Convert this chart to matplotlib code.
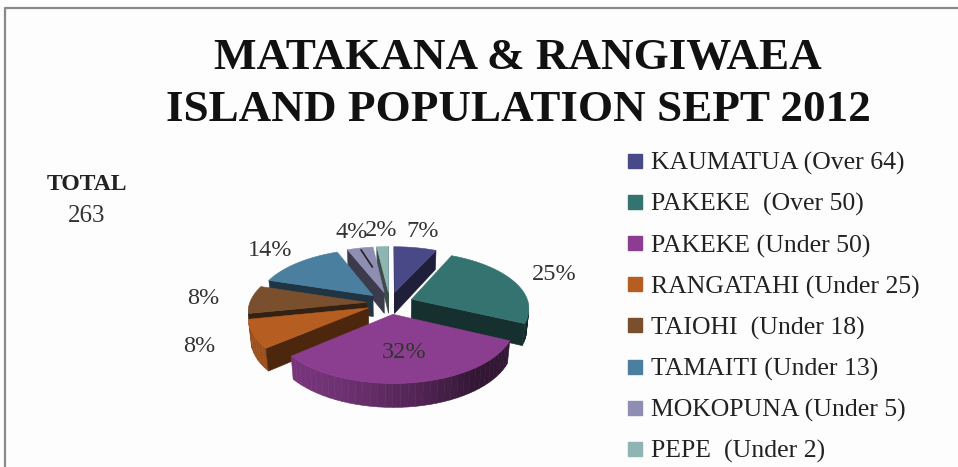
import numpy as np
import matplotlib.pyplot as plt
import matplotlib.colors as mcolors
from matplotlib.patches import Polygon
from matplotlib.lines import Line2D

# data (263 people in total)
groups = ['KAUMATUA (Over 64)', 'PAKEKE  (Over 50)', 'PAKEKE (Under 50)',
          'RANGATAHI (Under 25)', 'TAIOHI  (Under 18)', 'TAMAITI (Under 13)',
          'MOKOPUNA (Under 5)', 'PEPE  (Under 2)']
counts = [18, 66, 84, 21, 21, 37, 11, 5]
colors = ['#4a4987', '#357371', '#8b3e8f', '#b65e22',
          '#7a4f2e', '#4a7fa0', '#8f8db2', '#8fb5b3']
title = 'MATAKANA & RANGIWAEA\nISLAND POPULATION SEPT 2012'
total = sum(counts)

plt.rcParams['font.family'] = ['Liberation Serif', 'DejaVu Serif']

W, H = 958, 467
fig = plt.figure(figsize=(W/100, H/100), dpi=100)
fig.patch.set_facecolor('#fdfdfd')

# simple 3d view with perspective
elev = np.radians(30)
dist = 6.0
depth = 0.21
explode = 0.2

cam = np.array([0.0, -dist*np.cos(elev), dist*np.sin(elev)])
fwd = -cam/np.linalg.norm(cam)
right = np.array([1.0, 0.0, 0.0])
up = np.cross(right, fwd)
light = np.array([-0.8, -0.6, 0.0])

def project(pts):
	v = np.atleast_2d(pts) - cam
	z = v @ fwd
	return np.column_stack([(v @ right)/z, (v @ up)/z])

def shade(c, f):
	r, g, b = mcolors.to_rgb(c)
	return (r*f, g*f, b*f)

fracs = np.array(counts)/total
ends = np.cumsum(fracs)
starts = ends - fracs

slices = []
for i in range(len(counts)):
	a1 = np.radians(90 - ends[i]*360)
	a2 = np.radians(90 - starts[i]*360)
	mid = (a1 + a2)/2
	off = explode*np.array([np.cos(mid), np.sin(mid), 0.0])
	t = np.linspace(a1, a2, max(3, int(np.degrees(a2 - a1)/3)))
	rim = np.column_stack([np.cos(t), np.sin(t), np.zeros_like(t)]) + off
	lift = np.array([0, 0, depth])
	faces = []
	# outer wall
	for j in range(len(t) - 1):
		tm = (t[j] + t[j+1])/2
		n = np.array([np.cos(tm), np.sin(tm), 0])
		quad = np.array([rim[j], rim[j+1], rim[j+1] + lift, rim[j] + lift])
		if n @ (cam - quad.mean(axis=0)) > 0:
			f = 0.36 + 0.5*max(0, n @ light)
			faces.append((quad, shade(colors[i], f)))
	# cut faces
	for a, n in [(a1, np.array([np.sin(a1), -np.cos(a1), 0])),
				 (a2, np.array([-np.sin(a2), np.cos(a2), 0]))]:
		p = off + np.array([np.cos(a), np.sin(a), 0])
		quad = np.array([off, p, p + lift, off + lift])
		if n @ (cam - quad.mean(axis=0)) > 0:
			faces.append((quad, shade(colors[i], 0.42)))
	top = np.vstack([off + lift, rim + lift])
	faces.append((top, colors[i]))
	centre = off + 0.6*np.array([np.cos(mid), np.sin(mid), 0]) + lift/2
	slices.append((np.linalg.norm(cam - centre), faces, mid, off))

allpts = np.vstack([project(q) for s in slices for q, _ in s[1]])
ax = fig.add_axes([248/W, 1 - 408/H, 281/W, 162/H])
ax.set_xlim(allpts[:, 0].min(), allpts[:, 0].max())
ax.set_ylim(allpts[:, 1].min(), allpts[:, 1].max())
ax.set_aspect('equal', adjustable='datalim')
ax.axis('off')

for d, faces, mid, off in sorted(slices, key=lambda s: -s[0]):
	for quad, c in faces:
		ax.add_patch(Polygon(project(quad), closed=True, facecolor=c,
							 edgecolor=c, lw=0.4))

# percentage labels
big = int(np.argmax(counts))
for i, (d, faces, mid, off) in enumerate(slices):
	pct = '%d%%' % round(100*counts[i]/total)
	r = 0.6 if i == big else 1.42
	pos = project(off + np.array([r*np.cos(mid), r*np.sin(mid), depth]))[0]
	ax.text(pos[0], pos[1], pct, ha='center', va='center', fontsize=17.5,
			color='#333333')
	if groups[i].startswith('MOKOPUNA'):
		tip = project(off + np.array([0.95*np.cos(mid), 0.95*np.sin(mid), depth]))[0]
		ax.plot([pos[0] + 0.03, tip[0]], [pos[1] - 0.05, tip[1]], color='#222222', lw=1.2)

handles = [Line2D([], [], marker='s', ls='', markersize=9.5,
				  markerfacecolor=c, markeredgecolor=c) for c in colors]
fig.legend(handles, groups, loc='upper left', bbox_to_anchor=(612/W, 1 - 139/H),
		   frameon=False, fontsize=18.5, handletextpad=0.2, labelspacing=0.69,
		   borderpad=0, handlelength=0.8, labelcolor='#222222')

fig.text(518/W, 1 - 84/H, title, ha='center', va='center', fontsize=32.5,
		 fontweight='bold', linespacing=1.38, color='#111111')
fig.text(87/W, 1 - 185/H, 'TOTAL', ha='center', va='center', fontsize=17,
		 fontweight='bold', color='#222222')
fig.text(87/W, 1 - 216/H, '263', ha='center', va='center', fontsize=18,
		 color='#333333')

fig.add_artist(Line2D([5/W, 5/W, 1], [0, 1 - 8/H, 1 - 8/H],
					  transform=fig.transFigure, color='#8a8a8a', lw=1.6))

fig.savefig('out.png', dpi=100, facecolor=fig.get_facecolor())
